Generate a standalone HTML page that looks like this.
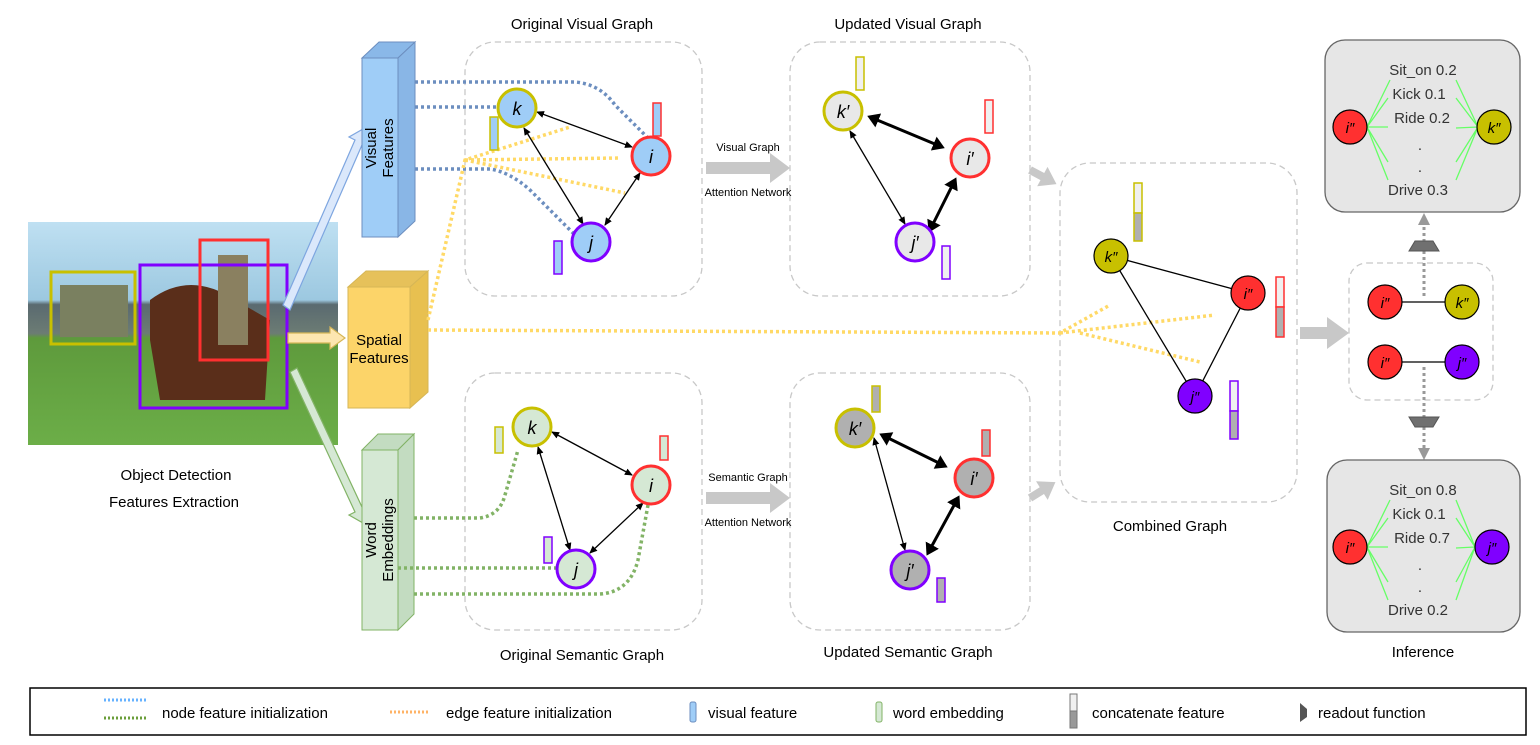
<!DOCTYPE html><html><head><style>body{margin:0;background:#fff}svg{display:block}text{font-family:"Liberation Sans",sans-serif}</style></head><body>
<svg width="1540" height="745" viewBox="0 0 1540 745" xmlns="http://www.w3.org/2000/svg">
<defs>
<marker id="a" markerWidth="8" markerHeight="8" refX="7" refY="4" orient="auto-start-reverse" markerUnits="userSpaceOnUse"><path d="M0,0.5 L8,4 L0,7.5z" fill="#000"/></marker>
<marker id="b" markerWidth="12" markerHeight="12" refX="3" refY="3" orient="auto-start-reverse"><path d="M0,0.5 L4,3 L0,5.5z" fill="#000"/></marker>
<linearGradient id="sky" x1="0" y1="0" x2="0" y2="1"><stop offset="0" stop-color="#bfe0f2"/><stop offset="0.35" stop-color="#9cc8e0"/><stop offset="0.37" stop-color="#5a6a70"/><stop offset="0.5" stop-color="#6c7c74"/><stop offset="0.52" stop-color="#5e9a3c"/><stop offset="1" stop-color="#6cae48"/></linearGradient>
</defs>
<rect x="28" y="222" width="310" height="223" fill="url(#sky)"/>
<rect x="60" y="285" width="68" height="52" fill="#7a8060"/>
<path d="M150,300 Q190,270 235,300 L270,320 L265,400 L160,400 L150,340z" fill="#5a2e1a"/>
<rect x="218" y="255" width="30" height="90" fill="#8a8060"/>
<rect x="51" y="272" width="84" height="72" fill="none" stroke="#c8c000" stroke-width="3"/>
<rect x="140" y="265" width="147" height="143" fill="none" stroke="#8000ff" stroke-width="3"/>
<rect x="200" y="240" width="68" height="120" fill="none" stroke="#ff3030" stroke-width="3"/>
<text x="176" y="480" font-size="15" text-anchor="middle">Object Detection</text>
<text x="174" y="507" font-size="15" text-anchor="middle">Features Extraction</text>
<path d="M283,305 L355,140 L349,137 L370,125 L367,149 L362,145 L290,310z" fill="#dbe8fb" stroke="#7ea6e0" stroke-width="1.2"/>
<path d="M288,333 L330,333 L330,327 L345,338 L330,349 L330,343 L288,343z" fill="#fde6b0" stroke="#d6b656" stroke-width="1.2"/>
<path d="M290,372 L355,512 L349,515 L370,527 L367,503 L362,507 L297,368z" fill="#d5e8d4" stroke="#82b366" stroke-width="1.2"/>
<path d="M362,58 L379,42 L415,42 L398,58z" fill="#8ab8e8" stroke="#6c8ebf"/>
<path d="M398,58 L415,42 L415,221 L398,237z" fill="#89b6e6" stroke="#6c8ebf"/>
<rect x="362" y="58" width="36" height="179" fill="#9fcdf7" stroke="#6c8ebf"/>
<text transform="translate(376,148) rotate(-90)" font-size="15" text-anchor="middle">Visual</text>
<text transform="translate(393,148) rotate(-90)" font-size="15" text-anchor="middle">Features</text>
<path d="M348,287 L366,271 L428,271 L410,287z" fill="#e6c15a" stroke="#d6b656"/>
<path d="M410,287 L428,271 L428,392 L410,408z" fill="#e8c050" stroke="#d6b656"/>
<rect x="348" y="287" width="62" height="121" fill="#fcd469" stroke="#d6b656"/>
<text x="379" y="345" font-size="15" text-anchor="middle">Spatial</text>
<text x="379" y="363" font-size="15" text-anchor="middle">Features</text>
<path d="M362,450 L378,434 L414,434 L398,450z" fill="#c3dcc1" stroke="#82b366"/>
<path d="M398,450 L414,434 L414,614 L398,630z" fill="#c3dcc1" stroke="#82b366"/>
<rect x="362" y="450" width="36" height="180" fill="#d5e8d4" stroke="#82b366"/>
<text transform="translate(376,540) rotate(-90)" font-size="15" text-anchor="middle">Word</text>
<text transform="translate(393,540) rotate(-90)" font-size="15" text-anchor="middle">Embeddings</text>
<g fill="none" stroke="#c8c8c8" stroke-width="1.3" stroke-dasharray="6,4">
<rect x="465" y="42" width="237" height="254" rx="30"/>
<rect x="790" y="42" width="240" height="254" rx="30"/>
<rect x="465" y="373" width="237" height="257" rx="30"/>
<rect x="790" y="373" width="240" height="257" rx="30"/>
<rect x="1060" y="163" width="237" height="339" rx="30"/>
<rect x="1349" y="263" width="144" height="137" rx="18"/>
</g>
<text x="582" y="29" font-size="15" text-anchor="middle">Original Visual Graph</text>
<text x="908" y="29" font-size="15" text-anchor="middle">Updated Visual Graph</text>
<text x="582" y="660" font-size="15" text-anchor="middle">Original Semantic Graph</text>
<text x="908" y="657" font-size="15" text-anchor="middle">Updated Semantic Graph</text>
<text x="1170" y="531" font-size="15" text-anchor="middle">Combined Graph</text>
<text x="1423" y="657" font-size="15" text-anchor="middle">Inference</text>
<g fill="none" stroke="#6c8ebf" stroke-width="3.5" stroke-dasharray="3,3">
<path d="M415,82 L575,82 Q600,84 615,105 L650,140"/>
<path d="M415,107 L497,107"/>
<path d="M415,169 L490,169 Q510,172 530,190 L575,235"/>
</g>
<g fill="none" stroke="#ffd966" stroke-width="3.5" stroke-dasharray="3,3">
<path d="M428,330 L1060,333 L1110,305"/>
<path d="M1060,333 L1215,315"/>
<path d="M1080,333 L1200,362"/>
<path d="M428,320 L465,160 L570,127"/>
<path d="M465,160 L620,158"/>
<path d="M465,160 L625,193"/>
</g>
<g fill="none" stroke="#82b366" stroke-width="3.5" stroke-dasharray="3,3">
<path d="M414,518 L480,518 Q500,515 505,495 L518,450"/>
<path d="M398,568 L556,568"/>
<path d="M414,594 L600,594 Q630,592 638,560 L648,505"/>
</g>
<g fill="#c8c8c8">
<path d="M706,162 L770,162 L770,153 L790,168 L770,183 L770,174 L706,174z"/>
<path d="M706,492 L770,492 L770,483 L790,498 L770,513 L770,504 L706,504z"/>
<path d="M1300,327 L1327,327 L1327,317 L1349,333 L1327,349 L1327,339 L1300,339z"/>
<path transform="translate(1030,170) rotate(28)" d="M0,-4 L14,-4 L14,-11 L30,0 L14,11 L14,4 L0,4z"/>
<path transform="translate(1030,498) rotate(-32)" d="M0,-4 L14,-4 L14,-11 L30,0 L14,11 L14,4 L0,4z"/>
</g>
<text x="748" y="151" font-size="11" text-anchor="middle">Visual Graph</text>
<text x="748" y="196" font-size="11" text-anchor="middle">Attention Network</text>
<text x="748" y="481" font-size="11" text-anchor="middle">Semantic Graph</text>
<text x="748" y="526" font-size="11" text-anchor="middle">Attention Network</text>
<g stroke="#000" stroke-width="1.3" fill="none" marker-start="url(#a)" marker-end="url(#a)">
<line x1="537" y1="112" x2="632" y2="147"/><line x1="524" y1="128" x2="583" y2="224"/><line x1="640" y1="173" x2="605" y2="225"/>
<line x1="552" y1="432" x2="632" y2="475"/><line x1="538" y1="447" x2="570" y2="550"/><line x1="643" y1="503" x2="590" y2="553"/>
<line x1="850" y1="131" x2="905" y2="224"/><line x1="874" y1="438" x2="905" y2="550"/>
</g>
<g stroke="#000" stroke-width="3" fill="none" marker-start="url(#b)" marker-end="url(#b)">
<line x1="870" y1="117" x2="942" y2="147"/><line x1="930" y1="230" x2="955" y2="180"/>
<line x1="882" y1="435" x2="945" y2="466"/><line x1="928" y1="553" x2="958" y2="498"/>
</g>
<g stroke="#000" stroke-width="1.3"><line x1="1111" y1="256" x2="1248" y2="293"/><line x1="1111" y1="256" x2="1195" y2="396"/><line x1="1248" y1="293" x2="1195" y2="396"/>
<line x1="1385" y1="302" x2="1462" y2="302"/><line x1="1385" y1="362" x2="1462" y2="362"/></g>
<g stroke-width="3" font-size="18" font-style="italic" text-anchor="middle">
<circle cx="517" cy="108" r="19" fill="#9fcdf7" stroke="#c8c000"/><text x="517" y="115">k</text>
<circle cx="651" cy="156" r="19" fill="#9fcdf7" stroke="#ff3030"/><text x="651" y="163">i</text>
<circle cx="591" cy="242" r="19" fill="#9fcdf7" stroke="#8000ff"/><text x="591" y="249">j</text>
<circle cx="843" cy="111" r="19" fill="#e8e8e8" stroke="#c8c000"/><text x="843" y="118">k′</text>
<circle cx="970" cy="158" r="19" fill="#e8e8e8" stroke="#ff3030"/><text x="970" y="165">i′</text>
<circle cx="915" cy="242" r="19" fill="#e8e8e8" stroke="#8000ff"/><text x="915" y="249">j′</text>
<circle cx="532" cy="427" r="19" fill="#d5e8d4" stroke="#c8c000"/><text x="532" y="434">k</text>
<circle cx="651" cy="485" r="19" fill="#d5e8d4" stroke="#ff3030"/><text x="651" y="492">i</text>
<circle cx="576" cy="569" r="19" fill="#d5e8d4" stroke="#8000ff"/><text x="576" y="576">j</text>
<circle cx="855" cy="428" r="19" fill="#b0b0b0" stroke="#c8c000"/><text x="855" y="435">k′</text>
<circle cx="974" cy="478" r="19" fill="#b0b0b0" stroke="#ff3030"/><text x="974" y="485">i′</text>
<circle cx="910" cy="570" r="19" fill="#b0b0b0" stroke="#8000ff"/><text x="910" y="577">j′</text>
</g>
<g stroke="#000" stroke-width="1.2" font-size="15" font-style="italic" text-anchor="middle">
<circle cx="1111" cy="256" r="17" fill="#c8c000"/><text x="1111" y="262" stroke="none">k″</text>
<circle cx="1248" cy="293" r="17" fill="#ff3030"/><text x="1248" y="299" stroke="none">i″</text>
<circle cx="1195" cy="396" r="17" fill="#8000ff"/><text x="1195" y="402" stroke="none">j″</text>
<circle cx="1385" cy="302" r="17" fill="#ff3030"/><text x="1385" y="308" stroke="none">i″</text>
<circle cx="1462" cy="302" r="17" fill="#c8c000"/><text x="1462" y="308" stroke="none">k″</text>
<circle cx="1385" cy="362" r="17" fill="#ff3030"/><text x="1385" y="368" stroke="none">i″</text>
<circle cx="1462" cy="362" r="17" fill="#8000ff"/><text x="1462" y="368" stroke="none">j″</text>
</g>
<g stroke-width="1.5">
<rect x="490" y="117" width="8" height="33" fill="#9fcdf7" stroke="#c8c000"/>
<rect x="653" y="103" width="8" height="33" fill="#9fcdf7" stroke="#ff3030"/>
<rect x="554" y="241" width="8" height="33" fill="#9fcdf7" stroke="#8000ff"/>
<rect x="856" y="57" width="8" height="33" fill="#f0f0f0" stroke="#c8c000"/>
<rect x="985" y="100" width="8" height="33" fill="#f0f0f0" stroke="#ff3030"/>
<rect x="942" y="246" width="8" height="33" fill="#f0f0f0" stroke="#8000ff"/>
<rect x="495" y="427" width="8" height="26" fill="#d5e8d4" stroke="#c8c000"/>
<rect x="660" y="436" width="8" height="24" fill="#d5e8d4" stroke="#ff3030"/>
<rect x="544" y="537" width="8" height="26" fill="#d5e8d4" stroke="#8000ff"/>
<rect x="872" y="386" width="8" height="26" fill="#b0b0b0" stroke="#c8c000"/>
<rect x="982" y="430" width="8" height="26" fill="#b0b0b0" stroke="#ff3030"/>
<rect x="937" y="578" width="8" height="24" fill="#b0b0b0" stroke="#8000ff"/>
<rect x="1134" y="183" width="8" height="30" fill="#f0f0f0" stroke="#c8c000"/><rect x="1134" y="213" width="8" height="28" fill="#b0b0b0" stroke="#c8c000"/>
<rect x="1276" y="277" width="8" height="30" fill="#f0f0f0" stroke="#ff3030"/><rect x="1276" y="307" width="8" height="30" fill="#b0b0b0" stroke="#ff3030"/>
<rect x="1230" y="381" width="8" height="30" fill="#f0f0f0" stroke="#8000ff"/><rect x="1230" y="411" width="8" height="28" fill="#b0b0b0" stroke="#8000ff"/>
</g>
<g stroke="#999" stroke-width="3" stroke-dasharray="3,3"><line x1="1424" y1="296" x2="1424" y2="225"/><line x1="1424" y1="367" x2="1424" y2="448"/></g>
<path d="M1418,225 L1424,213 L1430,225z" fill="#999"/><path d="M1418,448 L1424,460 L1430,448z" fill="#999"/>
<path d="M1409,251 L1415,241 L1433,241 L1439,251z" fill="#707070" stroke="#555"/>
<path d="M1409,417 L1439,417 L1433,427 L1415,427z" fill="#707070" stroke="#555"/>
<rect x="1325" y="40" width="195" height="172" rx="20" fill="#e6e6e6" stroke="#666" stroke-width="1.3"/>
<rect x="1327" y="460" width="193" height="172" rx="20" fill="#e6e6e6" stroke="#666" stroke-width="1.3"/>
<g stroke="#66ff66" stroke-width="1.3">
<path d="M1367,127 L1390,80 M1367,127 L1388,98 M1367,127 L1388,127 M1367,127 L1388,162 M1367,127 L1388,180"/>
<path d="M1478,127 L1456,80 M1478,127 L1456,98 M1478,127 L1456,128 M1478,127 L1456,162 M1478,127 L1456,180"/>
<path d="M1367,547 L1390,500 M1367,547 L1388,518 M1367,547 L1388,547 M1367,547 L1388,582 M1367,547 L1388,600"/>
<path d="M1475,547 L1456,500 M1475,547 L1456,518 M1475,547 L1456,548 M1475,547 L1456,582 M1475,547 L1456,600"/>
</g>
<g font-size="15" fill="#333" text-anchor="middle">
<text x="1423" y="75">Sit_on 0.2</text><text x="1419" y="99">Kick  0.1</text><text x="1422" y="123">Ride 0.2</text><text x="1420" y="150">.</text><text x="1420" y="172">.</text><text x="1418" y="195">Drive  0.3</text>
<text x="1423" y="495">Sit_on 0.8</text><text x="1419" y="519">Kick  0.1</text><text x="1422" y="543">Ride 0.7</text><text x="1420" y="570">.</text><text x="1420" y="592">.</text><text x="1418" y="615">Drive  0.2</text>
</g>
<g stroke="#000" stroke-width="1.2" font-size="15" font-style="italic" text-anchor="middle">
<circle cx="1350" cy="127" r="17" fill="#ff3030"/><text x="1350" y="133" stroke="none">i″</text>
<circle cx="1494" cy="127" r="17" fill="#c8c000"/><text x="1494" y="133" stroke="none">k″</text>
<circle cx="1350" cy="547" r="17" fill="#ff3030"/><text x="1350" y="553" stroke="none">i″</text>
<circle cx="1492" cy="547" r="17" fill="#8000ff"/><text x="1492" y="553" stroke="none">j″</text>
</g>
<rect x="30" y="688" width="1496" height="47" fill="#fff" stroke="#000" stroke-width="1.5"/>
<g stroke-width="3" stroke-dasharray="2,2"><line x1="104" y1="700" x2="146" y2="700" stroke="#66b2ff"/><line x1="104" y1="718" x2="146" y2="718" stroke="#6a9e3a"/><line x1="390" y1="712" x2="430" y2="712" stroke="#ffb366"/></g>
<rect x="690" y="702" width="6" height="20" rx="2" fill="#9fcdf7" stroke="#6c8ebf"/>
<rect x="876" y="702" width="6" height="20" rx="2" fill="#d5e8d4" stroke="#82b366"/>
<rect x="1070" y="694" width="7" height="17" fill="#f0f0f0" stroke="#777"/><rect x="1070" y="711" width="7" height="17" fill="#999" stroke="#777"/>
<path d="M1300,703 L1307,709 L1307,717 L1300,722z" fill="#555"/>
<g font-size="15"><text x="162" y="718">node feature initialization</text><text x="446" y="718">edge feature initialization</text><text x="708" y="718">visual feature</text><text x="893" y="718">word embedding</text><text x="1092" y="718">concatenate feature</text><text x="1318" y="718">readout function</text></g>
</svg>
</body></html>
